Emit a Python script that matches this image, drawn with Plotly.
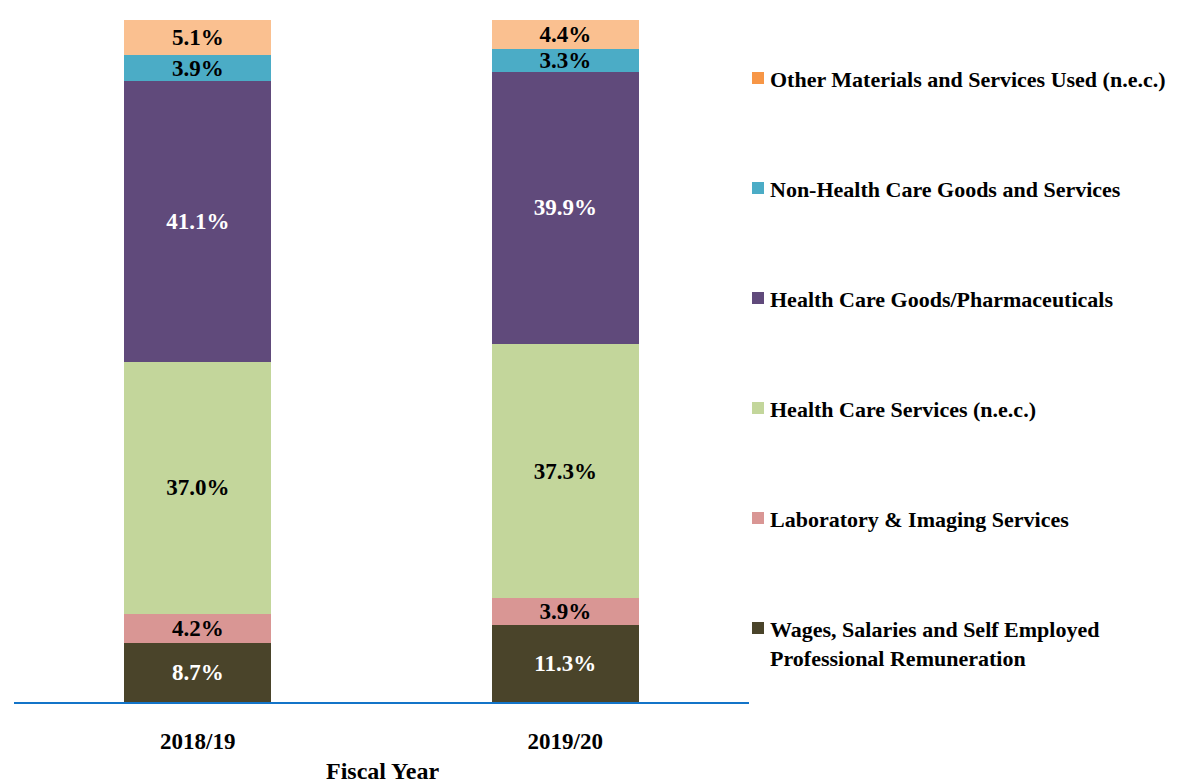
import plotly.graph_objects as go

years = ["2018/19", "2019/20"]
series_names = [
    "Wages, Salaries and Self Employed<br>Professional Remuneration",
    "Laboratory & Imaging Services",
    "Health Care Services (n.e.c.)",
    "Health Care Goods/Pharmaceuticals",
    "Non-Health Care Goods and Services",
    "Other Materials and Services Used (n.e.c.)",
]
values = [
    [8.7, 11.3],
    [4.2, 3.9],
    [37.0, 37.3],
    [41.1, 39.9],
    [3.9, 3.3],
    [5.1, 4.4],
]
bar_colors = ["#4A442A", "#D99694", "#C3D69B", "#604A7B", "#4BACC6", "#FAC090"]
legend_colors = ["#4A442A", "#D99694", "#C3D69B", "#604A7B", "#4BACC6", "#F79646"]
label_colors = ["white", "black", "black", "white", "black", "black"]

FONT = "Liberation Serif"

# page body has an 8px offset; plot area target (screen px): x 14..749, y 20..702
OFF = 8
PX0, PX1, PY0, PY1 = 14, 749, 20, 702


def px(x):
    return (x - PX0) / (PX1 - PX0)


def py(y):
    return (PY1 - y) / (PY1 - PY0)


fig = go.Figure()
for name, vals, col, lc in zip(series_names, values, bar_colors, label_colors):
    fig.add_trace(go.Bar(
        x=years, y=vals, name=name.replace("<br>", " "),
        marker=dict(color=col, line=dict(width=0)),
        text=[f"<b>{v:.1f}%</b>" for v in vals],
        textposition="inside", insidetextanchor="middle",
        textangle=0, constraintext="none",
        textfont=dict(family=FONT, size=23, color=lc),
        showlegend=False,
    ))

# Manual legend (top to bottom: reversed order)
row_y = [78, 188, 298, 408, 518, 628][::-1]  # screen pixel centers for first text line
for name, col, yc in zip(series_names, legend_colors, row_y):
    fig.add_shape(type="rect", xref="paper", yref="paper",
                  x0=px(752), x1=px(764), y0=py(yc + 6), y1=py(yc - 6),
                  fillcolor=col, line=dict(width=0))
    fig.add_annotation(xref="paper", yref="paper",
                       x=px(768), y=py(yc - 13),
                       xanchor="left", yanchor="top", align="left",
                       text=f"<b>{name}</b>", showarrow=False,
                       font=dict(family=FONT, size=22, color="black"))

fig.add_annotation(xref="paper", yref="paper", x=px(382), y=py(771),
                   xanchor="center", yanchor="middle", showarrow=False,
                   text="<b>Fiscal Year</b>",
                   font=dict(family=FONT, size=24, color="black"))

W, H = 1177, 783
fig.update_layout(
    barmode="stack",
    bargap=0.6,
    width=W, height=H,
    margin=dict(l=PX0 - OFF, r=W - (PX1 - OFF), t=PY0 - OFF, b=H - (PY1 - OFF)),
    plot_bgcolor="white", paper_bgcolor="white",
    font=dict(family=FONT, color="black"),
    xaxis=dict(showline=True, linecolor="#1374C8", linewidth=2,
               showgrid=False, ticks="", ticklabelstandoff=17,
               tickfont=dict(family=FONT, size=23, color="black"),
               tickvals=years, ticktext=[f"<b>{y}</b>" for y in years]),
    yaxis=dict(range=[0, 100], visible=False, showgrid=False),
)

fig.write_html("out.html")
